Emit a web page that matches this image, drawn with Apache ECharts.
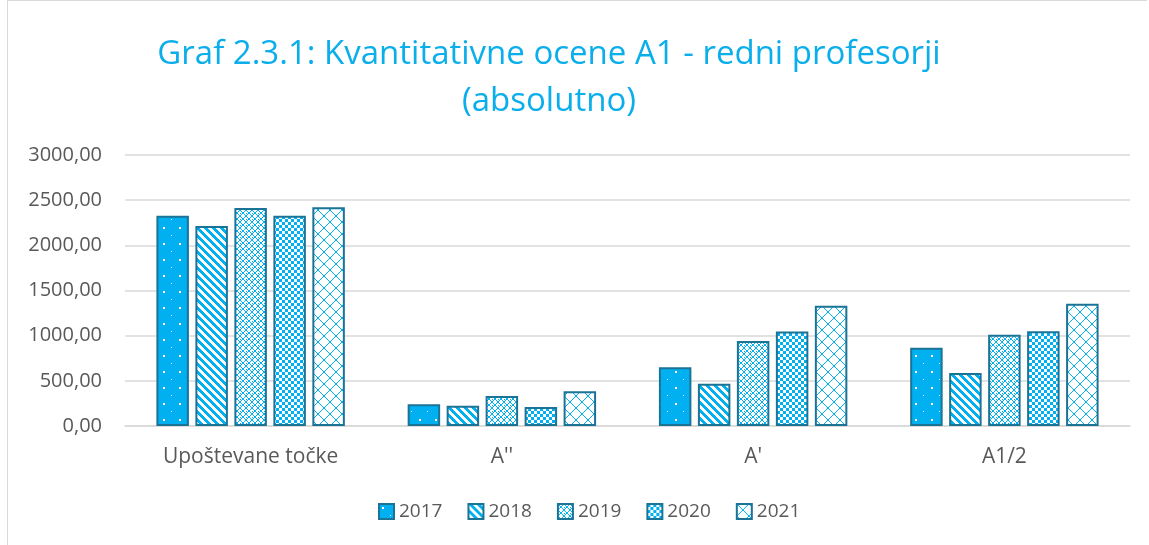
<!DOCTYPE html>
<html>
<head>
<meta charset="utf-8">
<script src="https://cdn.jsdelivr.net/npm/echarts@6/dist/echarts.min.js"></script>
<style>
  html, body { margin: 0; padding: 0; background: #fff; }
  #wrap { position: absolute; left: 7px; top: 0; width: 1140px; height: 545px; border-left: 1px solid #D9D9D9; border-top: 1px solid #D9D9D9; box-sizing: border-box; }
  #chart { position: absolute; left: 0; top: 0; width: 1149px; height: 545px; }
</style>
</head>
<body>
<div id="wrap"></div>
<div id="chart"></div>
<script>
const categories = ["Upoštevane točke", "A''", "A'", "A1/2"];
const years = ["2017", "2018", "2019", "2020", "2021"];
const values2017 = [2328, 240, 650, 865];
const values2018 = [2214, 225, 467, 588];
const values2019 = [2413, 332, 942, 1009];
const values2020 = [2328, 210, 1045, 1049];
const values2021 = [2421, 384, 1330, 1352];
const yTicks = [0, 500, 1000, 1500, 2000, 2500, 3000];

const BLUE = "#00B0F0";
const EDGE = "#1B7396";

// pattern tiles
function tile(size, draw) {
  const c = document.createElement("canvas");
  c.width = size;
  c.height = size;
  const ctx = c.getContext("2d");
  ctx.fillStyle = "#fff";
  ctx.fillRect(0, 0, size, size);
  ctx.fillStyle = BLUE;
  draw(ctx, size);
  return c;
}

const patterns = [
  // 2017: solid with sparse white dots
  tile(16, (ctx, n) => {
    ctx.fillRect(0, 0, n, n);
    ctx.fillStyle = "#fff";
    ctx.fillRect(3, 3, 2, 2);
    ctx.fillRect(11, 11, 1, 1);
  }),
  // 2018: wide downward diagonal
  tile(8, (ctx, n) => {
    for (let y = 0; y < n; y++) {
      for (let k = 0; k < 4; k++) ctx.fillRect((y + k) % n, y, 1, 1);
    }
  }),
  // 2019: fine diamond lattice
  tile(6, (ctx, n) => {
    for (let i = 0; i < n; i++) {
      ctx.fillRect(i, i, 1, 1);
      ctx.fillRect(n - 1 - i, i, 1, 1);
    }
    ctx.fillRect(0, 3, 1, 1);
  }),
  // 2020: checkerboard
  tile(6, (ctx, n) => {
    ctx.fillRect(0, 0, 3, 3);
    ctx.fillRect(3, 3, 3, 3);
  }),
  // 2021: outlined large diamonds
  tile(12, (ctx, n) => {
    for (let i = 0; i < n; i++) {
      ctx.fillRect(i, i, 1, 1);
      ctx.fillRect(n - 1 - i, i, 1, 1);
    }
  })
];

const seriesValues = [values2017, values2018, values2019, values2020, values2021];

const chart = echarts.init(document.getElementById("chart"));
chart.setOption({
  animation: false,
  textStyle: { fontFamily: "Open Sans" },
  title: {
    text: "Graf 2.3.1: Kvantitativne ocene A1 - redni profesorji\n(absolutno)",
    left: 544,
    top: 26,
    textAlign: "center",
    textStyle: { color: "#0AAEEB", fontSize: 33, fontWeight: "normal", lineHeight: 47, fontFamily: "Open Sans" }
  },
  legend: {
    data: years,
    top: 497,
    left: 373,
    itemWidth: 15,
    itemHeight: 15,
    itemGap: 25,
    icon: "rect",
    textStyle: { color: "#595959", fontSize: 19 }
  },
  grid: { left: 125, right: 19, top: 155, bottom: 119 },
  xAxis: {
    type: "category",
    data: categories,
    axisLine: { lineStyle: { color: "#D9D9D9", width: 1.5 } },
    axisTick: { show: false },
    axisLabel: { color: "#595959", fontSize: 21, margin: 21 }
  },
  yAxis: {
    type: "value",
    min: yTicks[0],
    max: yTicks[yTicks.length - 1],
    interval: 500,
    axisLine: { show: false },
    axisTick: { show: false },
    splitLine: { lineStyle: { color: "#D9D9D9", width: 1.5 } },
    axisLabel: {
      color: "#595959",
      fontSize: 20,
      margin: 23,
      formatter: v => v.toFixed(2).replace(".", ",")
    }
  },
  series: years.map((y, i) => ({
    name: y,
    type: "bar",
    data: seriesValues[i],
    barGap: "20%",
    barCategoryGap: "25%",
    itemStyle: {
      color: { image: patterns[i], repeat: "repeat" },
      borderColor: EDGE,
      borderWidth: 2
    }
  }))
});
</script>
</body>
</html>
